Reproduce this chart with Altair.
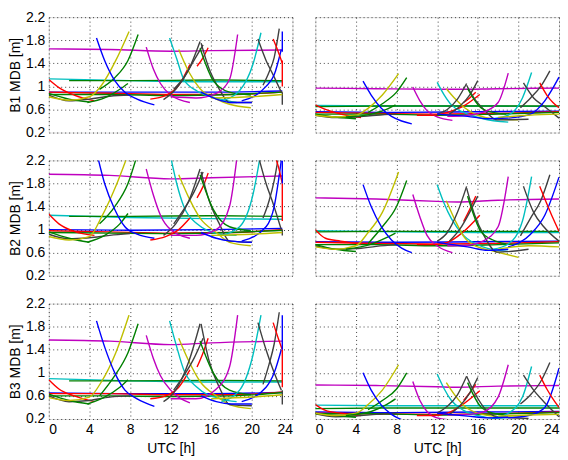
import altair as alt
import pandas as pd

# ---------------- data ----------------
ROW_TITLES = ["B1 MDB [m]", "B2 MDB [m]", "B3 MDB [m]"]
X_TICKS = [0, 4, 8, 12, 16, 20, 24]
Y_TICKS = [0.2, 0.6, 1.0, 1.4, 1.8, 2.2]

M_BLUE, M_GREEN, M_RED = "#0000ff", "#008000", "#ff0000"
M_CYAN, M_MAG, M_YEL, M_GRAY = "#00bfbf", "#bf00bf", "#bfbf00", "#404040"

# ---- left column ----
LEFT_COLORS = [M_MAG, M_CYAN, M_GREEN, M_BLUE, M_RED, M_GREEN, M_RED, M_GRAY,
               M_GREEN, M_YEL, M_GREEN, M_GREEN, M_BLUE, M_MAG, M_RED, M_RED,
               M_CYAN, M_YEL, M_GRAY, M_GRAY, M_GRAY, M_GREEN, M_MAG, M_CYAN,
               M_GRAY, M_GRAY, M_BLUE, M_RED, M_RED, M_BLUE, M_GRAY, M_YEL, M_BLUE]
LEFT_HOURS = [
    [0, 6, 12, 16, 23], [0, 8, 16, 23], [2, 8, 16, 23], [0, 8, 16, 23],
    [0, 6, 12, 18, 23], [0, 6, 12, 18, 23], [0, 1, 2.5, 4.5], [0, 2, 4, 6, 8],
    [0, 2, 4], [0, 2, 4, 5.2, 6.6, 7.9], [5, 6.5, 7.8, 8.8], [3.8, 5.5, 7, 7.8],
    [4.7, 5.5, 6.5, 7.5, 8.7, 10.4], [9.6, 10.3, 11, 12, 13.9], [10, 11.5, 12.8, 13.9],
    [14.6, 15.2, 15.7], [11.9, 12.6, 13.3, 14.6, 16.9, 18.5],
    [12.8, 13.8, 14.9, 16.5, 17.8, 19.9], [11.3, 12.5, 13.8, 14.9], [12.3, 13.3, 14.3, 15.2],
    [15.0, 15.8, 16.8, 17.8, 20], [14.9, 16.2, 17.8, 19.9], [12, 14.5, 16.5, 17.8, 18.6],
    [17, 18.8, 20.1, 20.9], [20.6, 21.4, 22.1, 22.9], [21.1, 21.7, 22.2, 22.7],
    [19, 21.4, 22.2, 22.9], [22.1, 22.6, 23], [23, 23], [23, 23], [23, 23],
    [16, 20, 23], [15, 16.5, 18, 20]]
B1_LEFT = [
    [1.65, 1.64, 1.61, 1.62, 1.63], [1.13, 1.1, 1.08, 1.08], [1.1, 1.1, 1.11, 1.1], [0.9, 0.9, 0.9, 0.92],
    [0.9, 0.88, 0.86, 0.86, 0.9], [0.86, 0.86, 0.84, 0.86, 0.9], [1.12, 0.98, 0.85, 0.75], [0.85, 0.75, 0.78, 0.83, 0.85],
    [0.88, 0.78, 0.73], [0.82, 0.76, 0.82, 1.02, 1.45, 1.95], [0.95, 1.15, 1.45, 1.9], [0.72, 0.8, 0.95, 1.05],
    [1.84, 1.45, 1.1, 0.9, 0.78, 0.68], [1.68, 1.3, 1.05, 0.85, 0.72], [0.78, 0.84, 1.02, 1.38],
    [1.35, 1.5, 1.67], [1.84, 1.48, 1.12, 0.92, 0.78, 0.72],
    [1.64, 1.25, 0.96, 0.78, 0.69, 0.63], [0.77, 0.95, 1.3, 1.78], [0.95, 1.15, 1.45, 1.72],
    [1.75, 1.3, 0.95, 0.72, 0.72], [1.66, 1.1, 0.9, 0.85], [0.82, 0.8, 0.88, 1.12, 1.9],
    [0.75, 0.93, 1.38, 1.93], [1.82, 1.45, 1.2, 0.9], [1.02, 1.25, 1.5, 2.0],
    [0.75, 1.0, 1.2, 1.64], [1.82, 1.6, 1.4], [1.45, 1.0], [1.95, 1.6], [0.9, 0.68],
    [0.8, 0.82, 0.86], [0.9, 0.78, 0.72, 0.72]]
B2_LEFT = [
    [1.96, 1.94, 1.88, 1.9, 1.93], [1.25, 1.21, 1.19, 1.18], [1.23, 1.23, 1.24, 1.23], [1.0, 0.99, 1.0, 1.02],
    [0.98, 0.96, 0.94, 0.95, 1.0], [0.95, 0.94, 0.93, 0.95, 0.99], [1.27, 1.1, 0.97, 0.9], [0.92, 0.84, 0.86, 0.9, 0.93],
    [0.96, 0.85, 0.78], [0.88, 0.82, 0.88, 1.22, 1.75, 2.35], [1.1, 1.4, 1.8, 2.35], [0.78, 0.9, 1.1, 1.28],
    [2.35, 1.8, 1.35, 1.05, 0.92, 0.85], [2.05, 1.6, 1.25, 1.0, 0.85], [0.82, 0.88, 1.0, 1.2],
    [1.55, 1.75, 1.98], [2.35, 1.8, 1.4, 1.1, 0.92, 0.9],
    [1.95, 1.55, 1.2, 0.95, 0.78, 0.72], [0.9, 1.1, 1.5, 2.05], [1.1, 1.35, 1.65, 2.0],
    [2.0, 1.5, 1.1, 0.8, 0.78], [1.95, 1.35, 1.05, 0.98], [0.9, 0.9, 1.0, 1.4, 2.35],
    [0.9, 1.05, 1.6, 2.35], [2.3, 1.8, 1.45, 1.0], [1.2, 1.5, 1.85, 2.35],
    [0.8, 1.05, 1.4, 2.2], [2.35, 2.1, 1.8], [1.8, 1.15], [2.2, 1.8], [1.0, 0.9],
    [0.9, 0.92, 0.95], [0.95, 0.85, 0.8, 0.78]]
B3_LEFT = [
    [1.57, 1.55, 1.49, 1.52, 1.55], [0.9, 0.86, 0.84, 0.84], [0.86, 0.86, 0.87, 0.86], [0.65, 0.64, 0.64, 0.66],
    [0.64, 0.64, 0.62, 0.62, 0.67], [0.6, 0.6, 0.59, 0.6, 0.66], [0.88, 0.72, 0.6, 0.5], [0.6, 0.5, 0.52, 0.58, 0.6],
    [0.63, 0.52, 0.46], [0.57, 0.52, 0.58, 0.85, 1.35, 2.0], [0.6, 0.95, 1.35, 1.85], [0.46, 0.58, 0.75, 0.88],
    [1.9, 1.45, 1.0, 0.7, 0.55, 0.42], [1.65, 1.25, 0.95, 0.7, 0.48], [0.55, 0.6, 0.75, 1.05],
    [1.1, 1.35, 1.6], [1.9, 1.45, 1.05, 0.75, 0.55, 0.5],
    [1.6, 1.2, 0.85, 0.6, 0.45, 0.38], [0.5, 0.7, 1.2, 1.85], [0.7, 0.95, 1.25, 1.6],
    [1.85, 1.2, 0.75, 0.45, 0.43], [1.55, 1.0, 0.7, 0.62], [0.55, 0.55, 0.72, 1.1, 2.0],
    [0.5, 0.7, 1.3, 2.0], [1.87, 1.4, 1.05, 0.7], [0.8, 1.15, 1.5, 2.05],
    [0.5, 0.75, 1.0, 1.4], [1.87, 1.6, 1.4], [1.4, 0.75], [2.0, 1.4], [0.7, 0.45],
    [0.55, 0.58, 0.62], [0.6, 0.5, 0.46, 0.46]]

# ---- right column ----
RIGHT_COLORS = [M_MAG, M_CYAN, M_GREEN, M_BLUE, M_RED, M_GREEN, M_RED, M_GRAY,
                M_GREEN, M_YEL, M_GREEN, M_GREEN, M_BLUE, M_MAG, M_RED, M_RED,
                M_CYAN, M_YEL, M_GRAY, M_GRAY, M_GRAY, M_GREEN, M_MAG, M_CYAN,
                M_GRAY, M_GRAY, M_BLUE, M_RED, M_YEL, M_BLUE]
RIGHT_HOURS = [
    [0, 6, 12, 14, 18, 24], [0, 8, 16, 24], [0, 8, 16, 24], [0, 8, 16, 24],
    [0, 6, 12, 18, 24], [0, 6, 12, 18, 24], [0, 1, 2.5, 4.5], [0, 2, 4, 6, 8],
    [0, 2, 4], [0, 2, 4, 5.2, 6.6, 8.2], [5.2, 6.6, 8, 9.0], [3, 5.5, 7, 7.9],
    [4.7, 5.5, 6.5, 7.5, 8.5, 9.5], [9.6, 10.3, 11, 12, 13.5], [10, 11.5, 13, 14.5, 16.2],
    [14.6, 15.2, 15.8], [12, 12.7, 13.4, 14.6, 16.5, 19],
    [12.9, 13.8, 14.7, 16, 17.5, 20], [12, 13, 14, 14.9], [13.2, 14.2, 15.2, 16],
    [14.9, 15.7, 16.6, 17.9, 21], [15, 16.3, 17.5, 18.8], [13, 15, 16.5, 18, 19.0],
    [17.5, 19, 20.4, 21.3], [20.5, 21.5, 22.5, 24], [20.2, 21.2, 22.2, 23.1],
    [19, 21.2, 22.6, 24], [22.1, 22.8, 23.4, 24], [18, 21, 24], [12, 15, 17, 19]]
B1_RIGHT = [
    [0.97, 0.96, 0.95, 0.95, 0.96, 0.97], [0.67, 0.66, 0.66, 0.65], [0.65, 0.66, 0.66, 0.66], [0.56, 0.55, 0.56, 0.57],
    [0.55, 0.53, 0.52, 0.53, 0.56], [0.52, 0.52, 0.5, 0.52, 0.55], [0.68, 0.6, 0.52, 0.46], [0.5, 0.46, 0.47, 0.5, 0.52],
    [0.52, 0.47, 0.44], [0.5, 0.47, 0.5, 0.62, 0.85, 1.22], [0.55, 0.7, 0.9, 1.15], [0.47, 0.52, 0.6, 0.68],
    [1.09, 0.85, 0.62, 0.48, 0.4, 0.35], [0.99, 0.75, 0.58, 0.47, 0.41], [0.5, 0.5, 0.55, 0.65, 0.86],
    [0.72, 0.8, 0.9], [1.07, 0.85, 0.68, 0.55, 0.44, 0.38],
    [0.96, 0.78, 0.63, 0.5, 0.44, 0.42], [0.52, 0.6, 0.78, 1.05], [0.52, 0.65, 0.85, 1.1],
    [1.02, 0.78, 0.6, 0.42, 0.43], [0.96, 0.63, 0.55, 0.52], [0.48, 0.5, 0.55, 0.72, 1.23],
    [0.44, 0.5, 0.8, 1.24], [1.06, 0.8, 0.66, 0.45], [0.63, 0.8, 1.0, 1.27],
    [0.45, 0.52, 0.75, 1.16], [1.06, 0.85, 0.72, 0.63], [0.46, 0.5, 0.52], [0.52, 0.48, 0.44, 0.45]]
B2_RIGHT = [
    [1.55, 1.53, 1.49, 1.48, 1.51, 1.53], [0.98, 0.96, 0.95, 0.95], [0.96, 0.97, 0.97, 0.97], [0.79, 0.78, 0.79, 0.8],
    [0.78, 0.76, 0.75, 0.76, 0.79], [0.74, 0.74, 0.72, 0.74, 0.77], [1.0, 0.85, 0.8, 0.75], [0.72, 0.66, 0.67, 0.71, 0.74],
    [0.74, 0.66, 0.62], [0.7, 0.66, 0.72, 0.95, 1.3, 2.0], [0.76, 1.05, 1.4, 1.85], [0.66, 0.75, 0.86, 0.94],
    [1.78, 1.4, 1.05, 0.82, 0.68, 0.6], [1.61, 1.22, 0.9, 0.72, 0.6], [0.74, 0.74, 0.78, 0.95, 1.25],
    [1.14, 1.35, 1.58], [1.78, 1.45, 1.19, 0.9, 0.7, 0.62],
    [1.5, 1.15, 0.86, 0.7, 0.63, 0.52], [0.8, 0.95, 1.3, 1.75], [0.8, 1.0, 1.3, 1.58],
    [1.72, 1.25, 0.9, 0.61, 0.66], [1.58, 0.97, 0.82, 0.75], [0.72, 0.73, 0.8, 1.05, 1.92],
    [0.66, 0.75, 1.15, 1.92], [1.75, 1.3, 1.05, 0.8], [0.89, 1.2, 1.5, 1.95],
    [0.7, 0.92, 1.25, 1.91], [1.75, 1.45, 1.2, 0.97], [0.66, 0.72, 0.7], [0.78, 0.7, 0.64, 0.66]]
B3_RIGHT = [
    [0.79, 0.78, 0.76, 0.75, 0.77, 0.78], [0.44, 0.43, 0.43, 0.43], [0.38, 0.39, 0.39, 0.39], [0.32, 0.31, 0.32, 0.33],
    [0.3, 0.29, 0.28, 0.29, 0.32], [0.29, 0.29, 0.27, 0.29, 0.31], [0.45, 0.35, 0.3, 0.26], [0.29, 0.24, 0.25, 0.28, 0.3],
    [0.3, 0.26, 0.23], [0.3, 0.26, 0.3, 0.45, 0.7, 1.14], [0.36, 0.52, 0.72, 1.0], [0.26, 0.33, 0.45, 0.55],
    [1.0, 0.7, 0.44, 0.28, 0.19, 0.15], [0.85, 0.52, 0.33, 0.22, 0.18], [0.26, 0.26, 0.3, 0.45, 0.69],
    [0.52, 0.65, 0.8], [0.98, 0.72, 0.52, 0.35, 0.24, 0.19],
    [0.83, 0.6, 0.42, 0.3, 0.25, 0.23], [0.3, 0.42, 0.62, 0.94], [0.28, 0.42, 0.65, 0.92],
    [0.94, 0.65, 0.4, 0.24, 0.21], [0.83, 0.41, 0.3, 0.27], [0.27, 0.28, 0.32, 0.58, 1.14],
    [0.22, 0.3, 0.58, 1.11], [0.96, 0.7, 0.5, 0.24], [0.46, 0.62, 0.85, 1.18],
    [0.22, 0.27, 0.4, 1.08], [0.96, 0.72, 0.55, 0.4], [0.25, 0.27, 0.28], [0.3, 0.25, 0.22, 0.23]]

PANELS = [
    [(LEFT_COLORS, LEFT_HOURS, B1_LEFT), (RIGHT_COLORS, RIGHT_HOURS, B1_RIGHT)],
    [(LEFT_COLORS, LEFT_HOURS, B2_LEFT), (RIGHT_COLORS, RIGHT_HOURS, B2_RIGHT)],
    [(LEFT_COLORS, LEFT_HOURS, B3_LEFT), (RIGHT_COLORS, RIGHT_HOURS, B3_RIGHT)],
]

FONT = "Liberation Sans"
FS = 14
W, H = 245, 116


def panel(colors, hours, values, row, col):
    recs = []
    for i, (c, hs, vs) in enumerate(zip(colors, hours, values)):
        for k, (h, v) in enumerate(zip(hs, vs)):
            recs.append({"curve": i, "color": c, "h": h, "v": v, "k": k})
    df = pd.DataFrame(recs)
    bottom = row == 2
    left = col == 0
    common = dict(ticks=False, domain=False, grid=True, gridDash=[1, 3],
                  gridColor="#000000", gridOpacity=0.75, gridWidth=1,
                  labelFont=FONT, labelFontSize=FS, labelColor="#000",
                  titleFont=FONT, titleFontSize=FS, titleFontWeight="normal",
                  titleColor="#000")
    x = alt.X("h:Q", scale=alt.Scale(domain=[0, 24], nice=False, zero=False),
              axis=alt.Axis(values=X_TICKS, labels=bottom, title="UTC [h]" if bottom else None,
                            labelPadding=4, titlePadding=5, **common))
    y = alt.Y("v:Q", scale=alt.Scale(domain=[0.2, 2.2], nice=False, zero=False),
              axis=alt.Axis(values=Y_TICKS, labels=left, format="~g",
                            title=ROW_TITLES[row] if left else None,
                            labelPadding=4, titlePadding=3, **common))
    return alt.Chart(df).mark_line(clip=True, strokeWidth=1.4, interpolate="monotone").encode(
        x=x, y=y,
        color=alt.Color("color:N", scale=None),
        detail="curve:N",
        order="k:Q",
    ).properties(width=W, height=H)


rows = []
for r in range(3):
    rows.append(alt.hconcat(*[panel(*PANELS[r][c], r, c) for c in range(2)], spacing=21))

chart = alt.vconcat(*rows, spacing=12).properties(padding=0).configure_view(
    stroke="#000000", strokeWidth=1.5
).configure(background="white")

chart.save("out.html", embed_options={"renderer": "svg", "actions": False})
